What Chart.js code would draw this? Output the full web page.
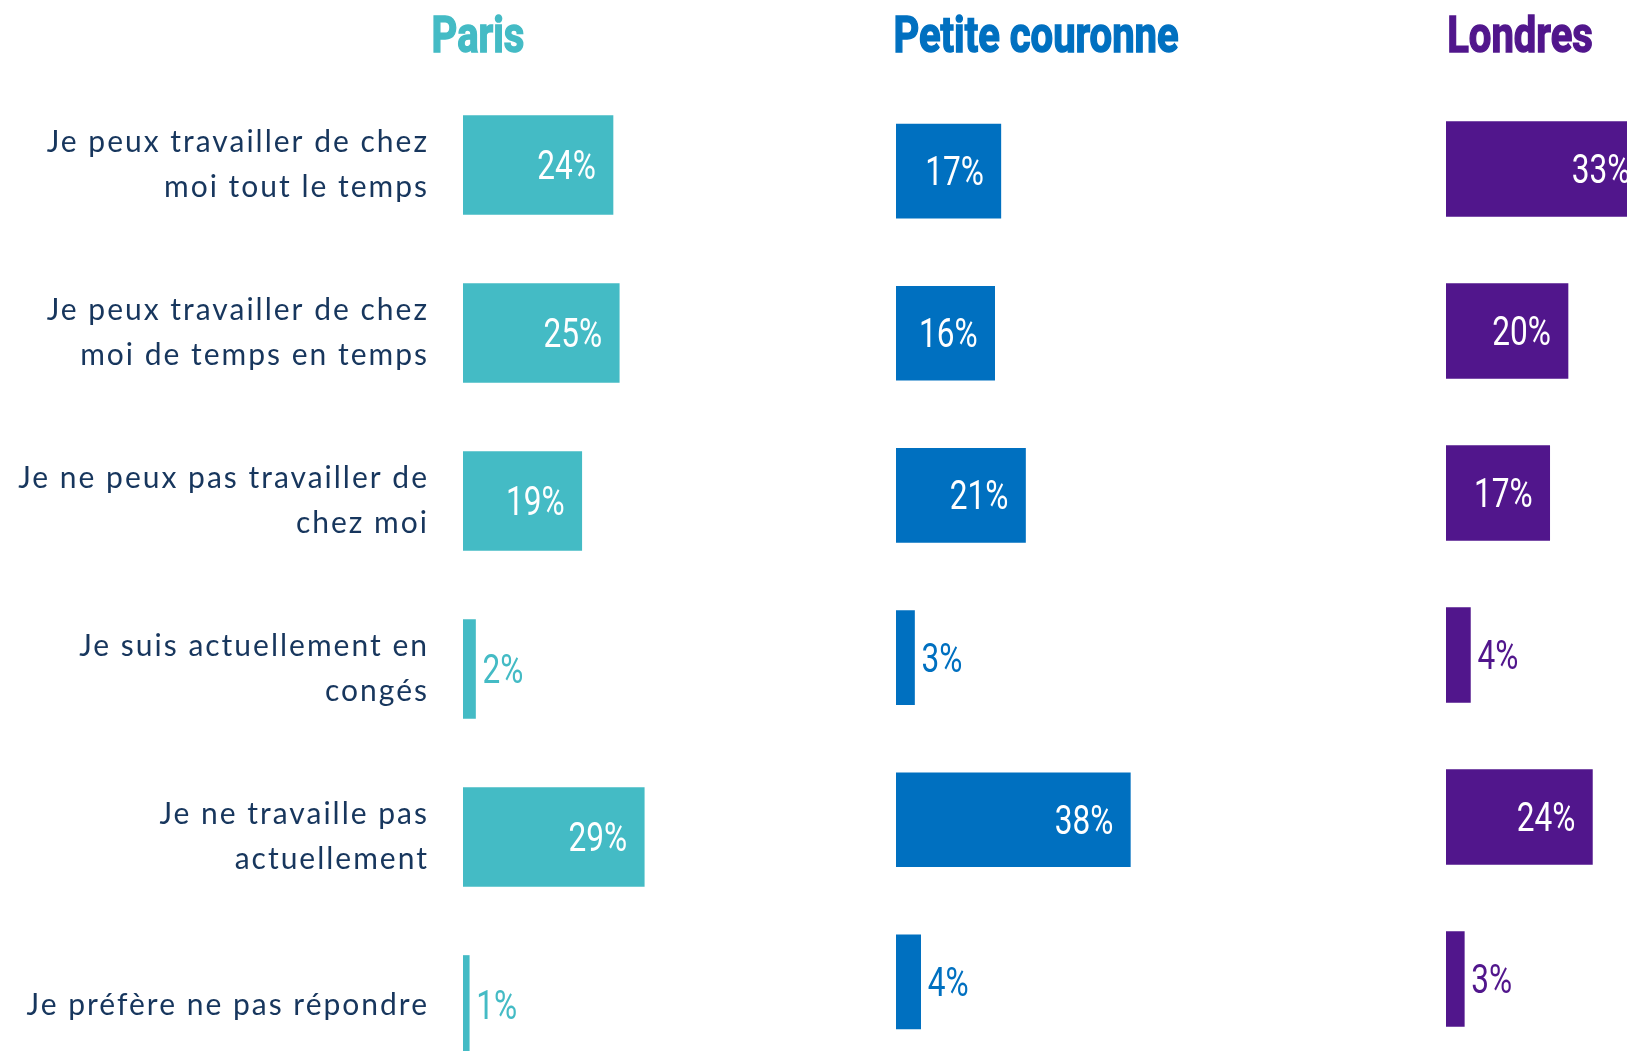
<!DOCTYPE html>
<html lang="fr">
<head>
    <meta charset="UTF-8">
    <meta name="viewport" content="width=device-width, initial-scale=1.0">
    <title>Télétravail - Paris, Petite couronne, Londres</title>
    <script src="https://cdn.jsdelivr.net/npm/chart.js"></script>
    <style>
        html, body {
            margin: 0;
            padding: 0;
            width: 1627px;
            height: 1051px;
            overflow: hidden;
            background-color: #ffffff;
        }
        .panel {
            position: absolute;
            top: 0;
        }
        #paris { left: 0; width: 838px; height: 1089px; }
        #petite { left: 836px; width: 430px; height: 1063px; }
        #londres { left: 1386px; width: 365px; height: 1060px; }
    </style>
</head>
<body>
    <div class="panel" id="paris"><canvas id="parisChart"></canvas></div>
    <div class="panel" id="petite"><canvas id="petiteChart"></canvas></div>
    <div class="panel" id="londres"><canvas id="londresChart"></canvas></div>
    <script>
        const categories = [
            ['Je peux travailler de chez', 'moi tout le temps'],
            ['Je peux travailler de chez', 'moi de temps en temps'],
            ['Je ne peux pas travailler de', 'chez moi'],
            ['Je suis actuellement en', 'congés'],
            ['Je ne travaille pas', 'actuellement'],
            'Je préfère ne pas répondre'
        ];
        const parisValues = [24, 25, 19, 2, 29, 1];
        const petiteCouronneValues = [17, 16, 21, 3, 38, 4];
        const londresValues = [33, 20, 17, 4, 24, 3];

        const labelColor = '#17365d';

        // spaced-out lettering for the category labels
        const labelSpacing = {
            id: 'labelSpacing',
            beforeDraw(chart) {
                chart.ctx.letterSpacing = '2px';
            },
            beforeDatasetsDraw(chart) {
                chart.ctx.letterSpacing = '0px';
            }
        };

        // draws the panel heading in a condensed bold style
        const panelTitle = {
            id: 'panelTitle',
            afterDraw(chart, args, opts) {
                const ctx = chart.ctx;
                ctx.save();
                ctx.letterSpacing = '0px';
                ctx.translate(opts.x, 52);
                ctx.scale(0.8, 1);
                ctx.font = 'bold 50px Roboto';
                ctx.textAlign = 'center';
                ctx.textBaseline = 'alphabetic';
                ctx.fillStyle = opts.color;
                ctx.strokeStyle = opts.color;
                ctx.lineWidth = 1.5;
                ctx.fillText(opts.text, 0, 0);
                ctx.strokeText(opts.text, 0, 0);
                ctx.restore();
            }
        };

        // percentage labels: white inside big bars, coloured next to small ones
        const valueLabels = {
            id: 'valueLabels',
            afterDatasetsDraw(chart, args, opts) {
                const ctx = chart.ctx;
                const meta = chart.getDatasetMeta(0);
                const data = chart.data.datasets[0].data;
                meta.data.forEach((bar, i) => {
                    const v = data[i];
                    const inside = v >= 10;
                    ctx.save();
                    ctx.letterSpacing = '0px';
                    ctx.translate(inside ? bar.x - 17 : bar.x + 7, bar.y + 14);
                    ctx.scale(0.79, 1);
                    ctx.font = '40px Roboto';
                    ctx.textAlign = inside ? 'right' : 'left';
                    ctx.textBaseline = 'alphabetic';
                    ctx.fillStyle = inside ? '#ffffff' : opts.color;
                    ctx.fillText(v + '%', 0, 0);
                    ctx.restore();
                });
            }
        };

        function makeChart(canvasId, title, values, color, cfg) {
            const ctx = document.getElementById(canvasId).getContext('2d');
            return new Chart(ctx, {
                type: 'bar',
                data: {
                    labels: categories,
                    datasets: [{
                        data: values,
                        backgroundColor: color,
                        borderWidth: 0,
                        barThickness: cfg.barThickness
                    }]
                },
                options: {
                    indexAxis: 'y',
                    responsive: true,
                    maintainAspectRatio: false,
                    animation: false,
                    layout: {
                        padding: { top: cfg.top, left: cfg.left, right: 0, bottom: 0 }
                    },
                    scales: {
                        x: {
                            display: false,
                            min: 0,
                            max: cfg.max
                        },
                        y: {
                            display: cfg.showLabels,
                            grid: { display: false, drawTicks: false },
                            border: { display: false },
                            ticks: {
                                color: labelColor,
                                padding: 34,
                                font: { family: 'Lato', size: 30, lineHeight: 1.52 }
                            },
                            afterFit(scale) {
                                if (cfg.showLabels) scale.width = cfg.axisWidth;
                                scale.paddingTop = 0;
                                scale.paddingBottom = 0;
                            }
                        }
                    },
                    plugins: {
                        legend: { display: false },
                        tooltip: { enabled: false },
                        panelTitle: { text: title, color: color, x: cfg.titleX },
                        valueLabels: { color: color }
                    }
                },
                plugins: cfg.showLabels ? [labelSpacing, panelTitle, valueLabels] : [panelTitle, valueLabels]
            });
        }

        makeChart('parisChart', 'Paris', parisValues, '#44bbc5',
            { top: 81, left: 0, max: 60, barThickness: 99, showLabels: true, axisWidth: 463, titleX: 478 });
        makeChart('petiteChart', 'Petite couronne', petiteCouronneValues, '#0070c0',
            { top: 90, left: 60, max: 60, barThickness: 94, showLabels: false, titleX: 200 });
        makeChart('londresChart', 'Londres', londresValues, '#51168c',
            { top: 88, left: 60, max: 50, barThickness: 95, showLabels: false, titleX: 134 });
    </script>
</body>
</html>
